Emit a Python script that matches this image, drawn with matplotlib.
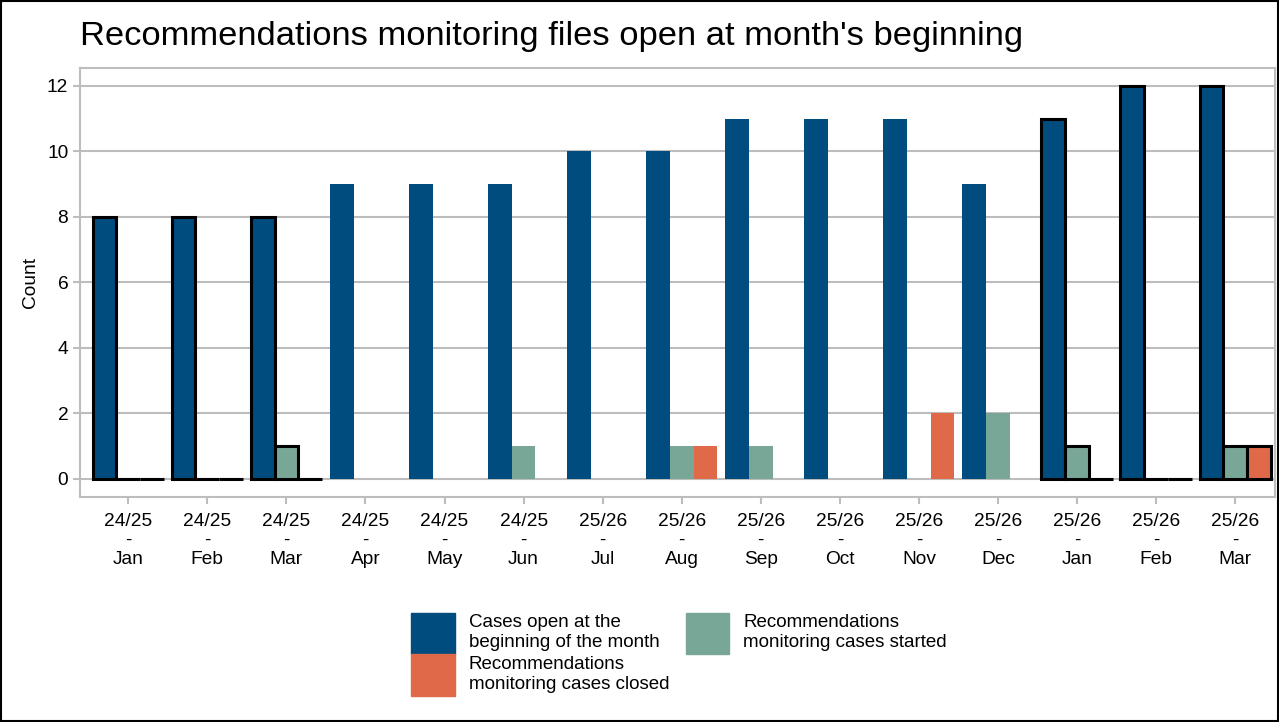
import matplotlib.pyplot as plt
import numpy as np
from matplotlib.patches import Rectangle
from matplotlib.legend_handler import HandlerPatch

plt.rcParams['font.family'] = ['Liberation Sans', 'DejaVu Sans']

years = ['24/25'] * 6 + ['25/26'] * 9
months = ['Jan', 'Feb', 'Mar', 'Apr', 'May', 'Jun', 'Jul', 'Aug', 'Sep',
          'Oct', 'Nov', 'Dec', 'Jan', 'Feb', 'Mar']
open_cases = [8, 8, 8, 9, 9, 9, 10, 10, 11, 11, 11, 9, 11, 12, 12]
started = [0, 0, 1, 0, 0, 1, 0, 1, 1, 0, 0, 2, 1, 0, 1]
closed = [0, 0, 0, 0, 0, 0, 0, 1, 0, 0, 2, 0, 0, 0, 1]
highlight = [True, True, True, False, False, False, False, False, False,
             False, False, False, True, True, True]

c_open = '#004C7E'
c_started = '#79A797'
c_closed = '#E0694A'
grid_c = '#BDBDBD'


def square_key(legend, orig_handle, xdescent, ydescent, width, height, fontsize):
    h = 30.0
    return Rectangle((-xdescent, height / 2 - ydescent - h / 2), width, h)


fig = plt.figure(figsize=(12.79, 7.22), dpi=100)
ax = fig.add_axes([0.0626, 0.312, 0.934, 0.594])

x = np.arange(len(months))
w = 0.3
series = [(open_cases, c_open, -w), (started, c_started, 0), (closed, c_closed, w)]
for vals, col, off in series:
    for i, v in enumerate(vals):
        if highlight[i]:
            ax.bar(x[i] + off, v, w, color=col, edgecolor='black', linewidth=2.2, zorder=3)
        elif v > 0:
            ax.bar(x[i] + off, v, w, color=col, linewidth=0, zorder=3)

ax.set_xlim(-0.61, 14.5)
ax.set_ylim(-0.55, 12.55)
ax.set_yticks([0, 2, 4, 6, 8, 10, 12])
ax.set_xticks(x)
ax.set_xticklabels([f'{y}\n-\n{m}' for y, m in zip(years, months)], linespacing=1.17)
ax.yaxis.grid(True, color=grid_c, linewidth=1.5, zorder=0)
ax.tick_params(axis='both', colors=grid_c, labelcolor='black', labelsize=13.8,
               length=5, width=1.5)
ax.tick_params(axis='y', pad=3.5)
ax.tick_params(axis='x', pad=6.5)
for s in ax.spines.values():
    s.set_color(grid_c)
    s.set_linewidth(1.5)
ax.set_ylabel('Count', fontsize=13.8, labelpad=6)

fig.text(0.0626, 0.95, "Recommendations monitoring files open at month's beginning",
         fontsize=24.8, va='center', ha='left')

handles = [Rectangle((0, 0), 1, 1, color=c_open),
           Rectangle((0, 0), 1, 1, color=c_closed),
           Rectangle((0, 0), 1, 1, color=c_started)]
labels = ['Cases open at the\nbeginning of the month',
          'Recommendations\nmonitoring cases closed',
          'Recommendations\nmonitoring cases started']
leg = fig.legend(handles, labels, ncol=2, loc='center', bbox_to_anchor=(0.531, 0.095),
                 frameon=False, fontsize=13.5, handlelength=2.3, handleheight=2.4,
                 handletextpad=0.75, columnspacing=0.9, labelspacing=0.25, borderpad=0.2,
                 handler_map={Rectangle: HandlerPatch(patch_func=square_key)})
for t in leg.get_texts():
    t.set_linespacing(1.22)

fig.patches.append(Rectangle((0.001, 0.001), 0.998, 0.998, transform=fig.transFigure,
                             fill=False, edgecolor='black', linewidth=1.5))

fig.savefig('out.png', dpi=100)
